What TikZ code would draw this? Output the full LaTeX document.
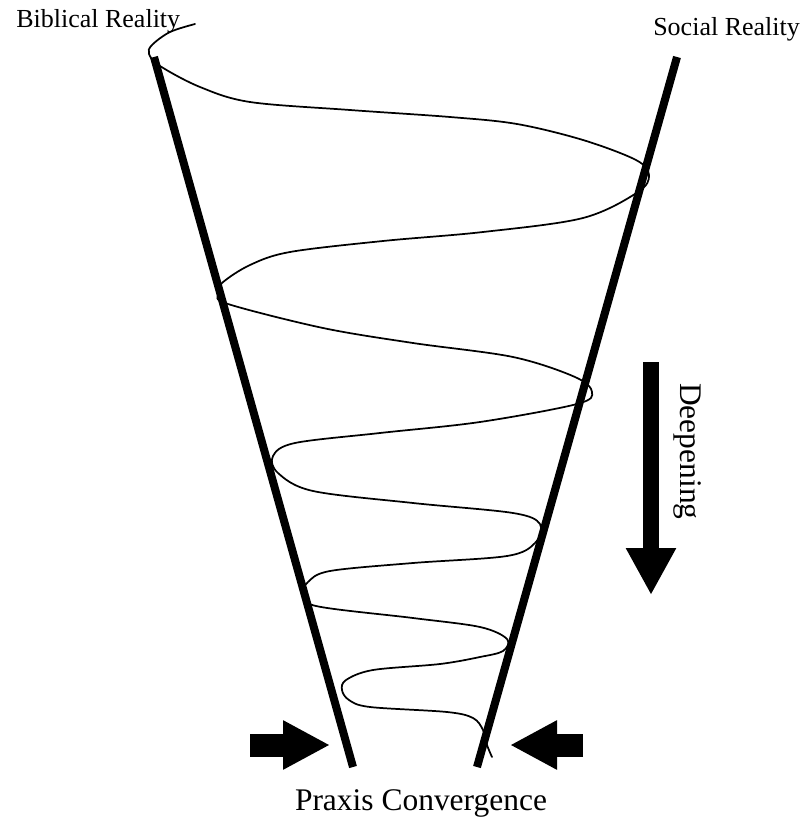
\documentclass[tikz,border=0pt]{standalone}
\usepackage{fontspec}
\setmainfont{Liberation Serif}
\usepackage{tikz}
\usetikzlibrary{arrows.meta,positioning}
\tikzset{
  beam/.style  = {line width=6pt, line cap=butt},
  helix/.style = {line width=1.3pt, line cap=round, line join=round},
  push/.style  = {line width=17.25pt, -{Triangle[length=35.25pt, width=34.5pt]}},
  sink/.style  = {line width=12pt, -{Triangle[length=35.25pt, width=35.25pt]}},
  lbl/.style   = {inner sep=0pt, font=\fontsize{19.5}{23}\selectfont},
  big/.style   = {inner sep=0pt, font=\fontsize{23.6}{28}\selectfont}
}
\begin{document}
\begin{tikzpicture}[x=0.75pt, y=-0.75pt]
\useasboundingbox (0,0) rectangle (806,821);

% the two realities
\coordinate (bibTop)  at (154,57);
\coordinate (bibFoot) at (353,767);
\coordinate (socTop)  at (677,57);
\coordinate (socFoot) at (477,767);

% spiral, drawn under the beams
\draw[helix] plot[smooth, tension=0.55] coordinates {
  (195,24) (170,32) (152,45) (149,54) (160,66) (200,87) (250,102)
  (350,110) (450,117) (517,124) (583,140) (636,160) (649,175) (638,192)
  (583,218) (483,232) (383,241) (290,252) (250,265) (222,283) (218,294)
  (228,304) (323,328) (413,343) (513,357) (575,377) (592,392) (577,404)
  (480,422) (380,433) (295,443) (273,456) (278,473) (313,491) (413,503)
  (513,513) (540,524) (535,543) (507,556) (413,563) (330,571) (308,582)
  (304,593) (316,606) (413,618) (480,627) (507,639) (503,651) (480,657)
  (440,664) (373,670) (346,680) (342,690) (349,700) (370,707) (447,712)
  (473,718) (483,730) (487,745) (492,757)};

\draw[beam] (bibTop) -- (bibFoot);
\draw[beam] (socTop) -- (socFoot);

\node[lbl, anchor=base west] (bib) at (16,27) {Biblical Reality};
\node[lbl, anchor=base west] (soc) at (653,36) {Social Reality};

% deepening
\coordinate (deepTop) at (651,362);
\coordinate (deepTip) at (651,595);
\draw[sink] (deepTop) -- (deepTip);
\node[big, rotate=-90, anchor=base west] (deep) at (680,383) {Deepening};

% convergence
\coordinate (pushL) at (250,745);
\coordinate (tipL)  at (330,745);
\coordinate (pushR) at (583,745);
\coordinate (tipR)  at (510,745);
\draw[push] (pushL) -- (tipL);
\draw[push] (pushR) -- (tipR);
\node[big, anchor=base] (praxis) at (421,810) {Praxis Convergence};
\end{tikzpicture}
\end{document}
